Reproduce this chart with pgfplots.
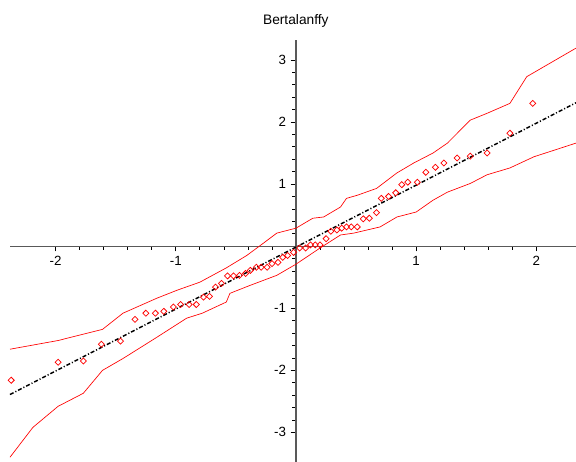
\documentclass[border=0pt]{standalone}
\usepackage{pgfplots}
\pgfplotsset{compat=1.18}
\usepackage{fontspec}
\setmainfont{Liberation Sans}
\begin{document}
\begin{tikzpicture}
\begin{axis}[
    scale only axis,
    width=423.9pt, height=315.7pt,
    xmin=-2.38, xmax=2.33,
    ymin=-3.47, ymax=3.32,
    axis lines=middle,
    axis line style={gray!70!black, line width=0.8pt, -},
    xtick={-2,-1,0,1,2}, ytick={-3,-2,-1,0,1,2,3},
    minor tick num=4,
    every tick/.style={draw=black, line width=0.6pt},
    every major tick/.append style={major tick length=4pt},
    tick align=outside,
    font=\fontsize{10}{12}\selectfont,
    /pgf/number format/assume math mode=true,
    title={Bertalanffy},
    title style={at={(axis description cs:0.505,1)}, anchor=center, yshift=8.5pt, font=\fontsize{10.3}{12}\selectfont},
    clip=false,
]
% reference line
\addplot[black, line width=1.1pt, dash pattern=on 3pt off 1.5pt on 0.8pt off 1.5pt] coordinates {
(-2.38,-2.39)(2.33,2.31)
};
% lower confidence band
\addplot[red, line width=0.5pt] coordinates {
(-2.38,-3.40)(-2.19,-2.92)(-1.98,-2.58)(-1.77,-2.37)(-1.61,-2.00)(-1.44,-1.81)
(-1.16,-1.47)(-0.91,-1.16)(-0.78,-1.08)(-0.58,-0.90)(-0.55,-0.76)(-0.38,-0.63)
(-0.16,-0.47)(0.00,-0.29)(0.20,-0.03)(0.37,0.18)(0.48,0.21)(0.70,0.31)
(0.84,0.47)(1.00,0.55)(1.14,0.74)(1.26,0.87)(1.45,1.01)(1.59,1.15)
(1.78,1.26)(1.98,1.44)(2.33,1.66)
};
% upper confidence band
\addplot[red, line width=0.5pt] coordinates {
(-2.38,-1.66)(-1.98,-1.52)(-1.61,-1.34)(-1.44,-1.08)(-1.16,-0.84)(-0.99,-0.71)
(-0.80,-0.58)(-0.58,-0.35)(-0.41,-0.15)(-0.27,0.05)(-0.16,0.21)(0.00,0.29)
(0.14,0.45)(0.23,0.47)(0.37,0.63)(0.42,0.77)(0.51,0.82)(0.67,0.93)
(0.84,1.18)(0.98,1.34)(1.14,1.50)(1.26,1.66)(1.45,2.03)(1.59,2.14)
(1.78,2.30)(1.92,2.73)(2.33,3.19)
};
% sample quantiles
\addplot[only marks, red, mark=square, mark size=1.6pt, mark options={rotate=45, line width=0.55pt}] coordinates {
(-2.37,-2.16)(-1.98,-1.87)(-1.77,-1.85)(-1.62,-1.58)(-1.46,-1.53)(-1.34,-1.18)
(-1.25,-1.08)(-1.17,-1.08)(-1.10,-1.05)(-1.02,-0.98)(-0.96,-0.94)(-0.89,-0.94)
(-0.83,-0.94)(-0.77,-0.82)(-0.72,-0.81)(-0.67,-0.66)(-0.62,-0.60)(-0.57,-0.48)
(-0.52,-0.48)(-0.47,-0.47)(-0.42,-0.44)(-0.38,-0.39)(-0.33,-0.34)(-0.29,-0.34)
(-0.24,-0.34)(-0.20,-0.28)(-0.15,-0.26)(-0.11,-0.18)(-0.07,-0.15)(-0.02,-0.10)
(0.03,-0.03)(0.08,-0.03)(0.12,0.02)(0.16,0.02)(0.20,0.02)(0.25,0.12)
(0.29,0.24)(0.34,0.26)(0.38,0.29)(0.42,0.31)(0.46,0.31)(0.51,0.31)
(0.56,0.44)(0.61,0.45)(0.67,0.54)(0.71,0.77)(0.77,0.80)(0.83,0.86)
(0.88,0.99)(0.93,1.03)(1.01,1.03)(1.08,1.19)(1.16,1.27)(1.23,1.34)
(1.34,1.42)(1.45,1.45)(1.59,1.50)(1.78,1.82)(1.97,2.30)
};
\end{axis}
\pgfresetboundingbox
\path[use as bounding box] ([xshift=-7.5pt]current axis.south west) rectangle ([yshift=30pt]current axis.north east);
\end{tikzpicture}
\end{document}
